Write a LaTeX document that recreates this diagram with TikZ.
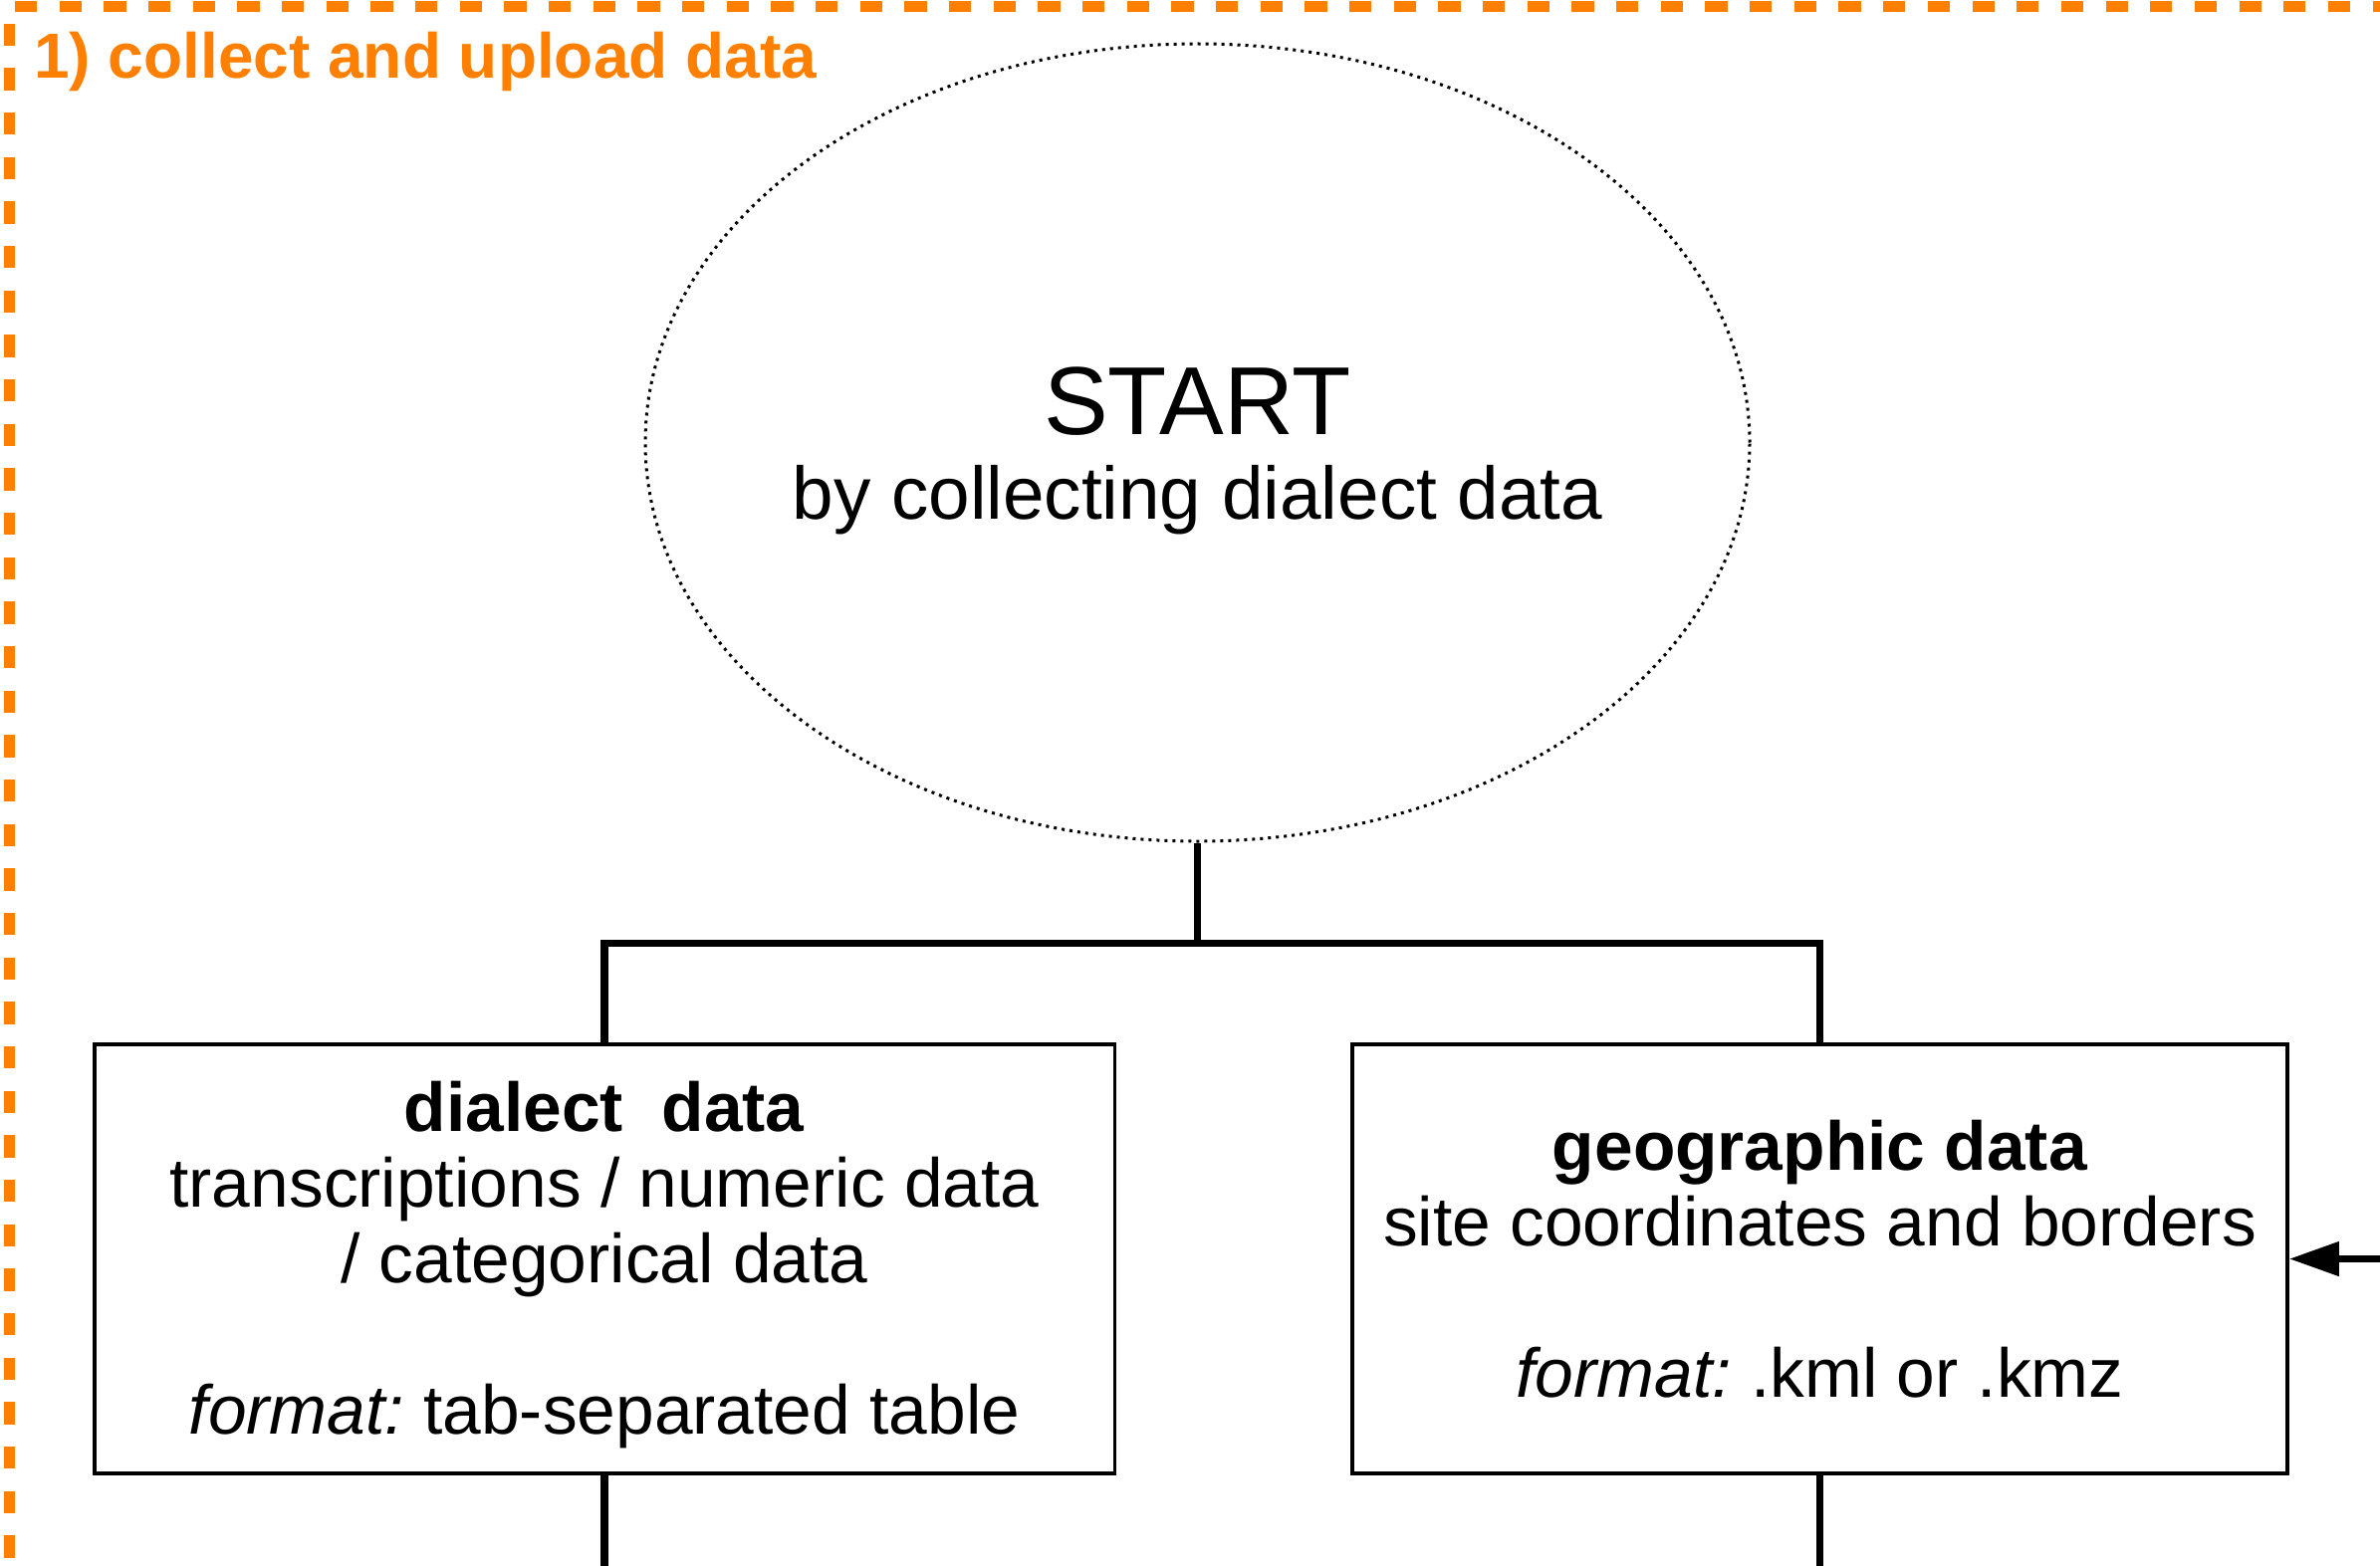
\documentclass[tikz,border=0pt]{standalone}
\usepackage{fontspec}
\setmainfont{Liberation Sans}
\usetikzlibrary{arrows.meta,shapes.geometric}
\definecolor{orng}{RGB}{255,128,0}
\frenchspacing
\begin{document}
\begin{tikzpicture}[x=1pt,y=-1pt,
  boxnode/.style={draw=black, line width=3.5pt, rectangle, inner sep=0pt, align=center, font=\fontsize{69.5}{76}\selectfont\frenchspacing},
  startnode/.style={ellipse, draw=black, line width=3pt, dash pattern=on 3pt off 5pt, inner xsep=-40pt, inner ysep=0pt, align=center, font=\fontsize{74.7}{85}\selectfont},
  tree/.style={draw=black, line width=7.5pt, line join=miter},
  frameline/.style={draw=orng, line width=11pt, dash pattern=on 22.3pt off 22.37pt},
  titletext/.style={text=orng, font=\fontsize{64}{70}\selectfont\bfseries, inner sep=0pt, anchor=base west}
]
\useasboundingbox (0,0) rectangle (2390,1573);
\clip (0,0) rectangle (2390,1573);

% orange dashed frame (only top, left and a sliver of the right side are visible)
\coordinate (fTL) at (9.5,6.5);
\coordinate (fTR) at (2395,6.5);
\coordinate (fBL) at (9.5,1600);
\coordinate (fBR) at (2395,1600);
\draw[frameline, dash phase=39.17pt] (fTL) -- (fTR);
\draw[frameline, dash phase=27.47pt] (fTL) -- (fBL);
\draw[frameline, dash phase=11.87pt] (fTR) -- (fBR);

\node[titletext] (title) at (34,79) {1) collect and upload data};

% start ellipse
\node[startnode, minimum width=1109pt, minimum height=801pt] (start) at (1202.5,444.5)
  {\rule{0pt}{85pt}{\fontsize{97}{85}\selectfont START}\\
   by collecting dialect data};

% boxes
\node[boxnode, minimum width=1024.5pt, minimum height=431pt] (dialect) at (607,1264.5)
  {\rule{0pt}{62pt}\textbf{dialect\ \ data}\\
   transcriptions / numeric data\\
   / categorical data\\
   \mbox{}\\
   {\itshape format:} tab-separated table};
\node[boxnode, minimum width=939pt, minimum height=431pt] (geo) at (1827.5,1264.5)
  {\textbf{geographic data}\\
   site coordinates and borders\\
   \mbox{}\\
   {\itshape format:} .kml or .kmz};

% tree connectors
\coordinate (j) at (1202.5,947.5);
\draw[tree] (start.south) -- (j);
\draw[tree] (dialect.north) |- (j) -| (geo.north);

% lines leaving at the bottom
\coordinate (dout) at (607,1590);
\coordinate (gout) at (1827.5,1590);
\draw[tree] (dialect.south) -- (dout);
\draw[tree] (geo.south) -- (gout);

% incoming arrow from the right
\coordinate (ain) at (2410,1264.5);
\draw[tree, -{Triangle[length=50pt,width=33pt]}] (ain) -- (geo.east);
\end{tikzpicture}
\end{document}
